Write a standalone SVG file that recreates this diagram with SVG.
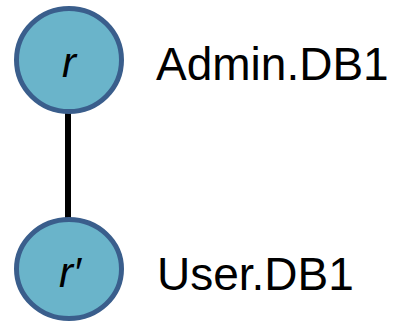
<svg xmlns="http://www.w3.org/2000/svg" width="395" height="324" viewBox="0 0 395 324">
  <style>
    .node { fill: #6AB4CA; stroke: #3A5E8C; stroke-width: 5; }
    .var { font-family: "Liberation Sans", Arial, sans-serif; font-style: italic; font-size: 42px; fill: #000; text-anchor: middle; }
    .label { font-family: "Liberation Sans", Arial, sans-serif; font-size: 46px; fill: #000; }
    .edge { stroke: #000; stroke-width: 6; }
  </style>
  <rect width="395" height="324" fill="#fff"/>
  <g id="connectors">
    <line class="edge" x1="68" y1="112" x2="68" y2="219"/>
  </g>
  <g id="node-r">
    <ellipse class="node" cx="69" cy="60" rx="52.5" ry="51.5"/>
    <text class="var" x="69" y="77">r</text>
    <text class="label" x="156" y="80">Admin.DB1</text>
  </g>
  <g id="node-r-prime">
    <ellipse class="node" cx="69" cy="269" rx="52.5" ry="49.5"/>
    <text class="var" x="70" y="287">r′</text>
    <text class="label" x="157" y="290">User.DB1</text>
  </g>
</svg>
